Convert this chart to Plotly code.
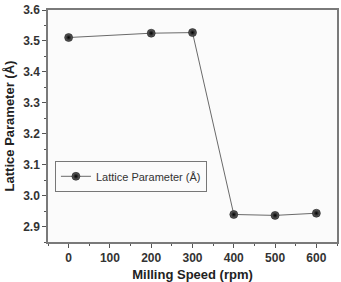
import plotly.graph_objects as go

speed = [0, 200, 300, 400, 500, 600]
lattice = [3.511, 3.525, 3.527, 2.939, 2.936, 2.943]
x_ticks = [0, 100, 200, 300, 400, 500, 600]
y_ticks = [2.9, 3.0, 3.1, 3.2, 3.3, 3.4, 3.5, 3.6]

fig = go.Figure()
fig.add_trace(go.Scatter(
    x=speed, y=lattice, mode="lines+markers",
    name="Lattice Parameter (Å)",
    line=dict(color="#6a6a6a", width=1),
    marker=dict(size=8, color="#6a6a6a",
                gradient=dict(type="radial", color="#000000"),
                line=dict(color="#000000", width=0.5)),
))

axis_common = dict(
    showline=True, linecolor="#7a7a7a", linewidth=1.5, mirror=True,
    ticks="outside", ticklen=4, tickcolor="#555555", tickwidth=1,
    showgrid=False, zeroline=False,
    tickfont=dict(family="Liberation Sans", size=12, color="#333333", weight="bold"),
)

fig.update_xaxes(
    range=[-50, 650], tickvals=x_ticks,
    title=dict(text="Milling Speed (rpm)", standoff=6,
               font=dict(family="Liberation Sans", size=13, color="#222222", weight="bold")),
    minor=dict(ticks="outside", ticklen=2, dtick=50, tick0=0, tickcolor="#555555"),
    **axis_common,
)
fig.update_yaxes(
    range=[2.85, 3.6], tickvals=y_ticks, tickformat=".1f",
    title=dict(text="Lattice Parameter (Å)", standoff=6,
               font=dict(family="Liberation Sans", size=13, color="#222222", weight="bold")),
    minor=dict(ticks="outside", ticklen=2, dtick=0.05, tick0=2.9, tickcolor="#555555"),
    **axis_common,
)

fig.update_layout(
    width=341, height=282,
    margin=dict(l=48, r=2, t=10, b=37),
    paper_bgcolor="#ffffff", plot_bgcolor="#fbfbfb",
    showlegend=True,
    legend=dict(x=0.024, y=0.35, xanchor="left", yanchor="top",
                bgcolor="rgba(255,255,255,0)", bordercolor="#777777", borderwidth=1,
                font=dict(family="Liberation Sans", size=11, color="#333333"),
                itemwidth=30, tracegroupgap=0),
)

fig.write_html("out.html")
